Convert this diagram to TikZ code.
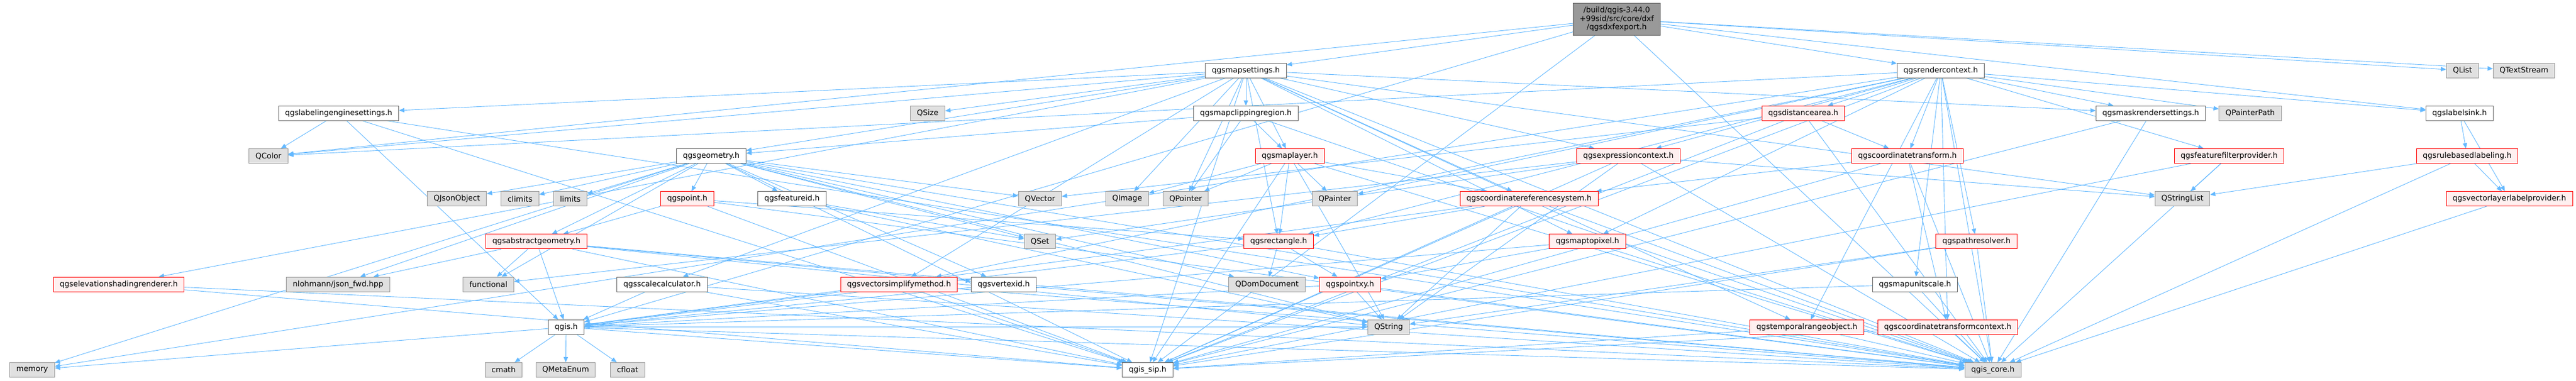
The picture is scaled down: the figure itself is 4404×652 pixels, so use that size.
\documentclass[tikz,border=0pt]{standalone}
\usepackage{fontspec}
\setmainfont{DejaVu Sans}
\usetikzlibrary{arrows.meta,backgrounds}
\definecolor{edgeblue}{HTML}{63B8FF}
\definecolor{extfill}{HTML}{E0E0E0}
\definecolor{extline}{HTML}{999999}
\definecolor{docline}{HTML}{666666}
\definecolor{redfill}{HTML}{FFF0F0}

\begin{document}
\begin{tikzpicture}[x=1pt,y=-1pt,font=\fontsize{13}{14.6}\selectfont,
	base/.style={rectangle,line width=1pt,inner xsep=11pt,inner ysep=0pt,minimum height=25pt},
	ext/.style={base,draw=extline,fill=extfill},
	doc/.style={base,draw=docline,fill=white},
	trunc/.style={base,draw=red,fill=redfill},
	root/.style={base,draw=docline,fill=extline,align=center,minimum width=148pt,minimum height=55pt},
	dep/.style={draw=edgeblue,line width=0.9pt,-{Triangle[length=9pt,width=7.5pt]}}]
	\useasboundingbox (0,0) rectangle (4404,652);
	% rank 0
	\node[root] (dxf) at (2764,32.7) {/build/qgis-3.44.0\\+99sid/src/core/dxf\\/qgsdxfexport.h};
	% rank 1
	\node[doc] (ms) at (2130,120.6) {qgsmapsettings.h};
	\node[doc] (rc) at (3318,120.6) {qgsrendercontext.h};
	\node[ext] (qlist) at (4210,120.6) {QList};
	\node[ext] (qts) at (4315,120.6) {QTextStream};
	% rank 2
	\node[doc] (les) at (579,193.8) {qgslabelingenginesettings.h};
	\node[ext] (qsize) at (1586,193.8) {QSize};
	\node[doc] (mcr) at (2130,193.8) {qgsmapclippingregion.h};
	\node[trunc] (da) at (3083,193.8) {qgsdistancearea.h};
	\node[doc] (mrs) at (3677,193.8) {qgsmaskrendersettings.h};
	\node[ext] (qpp) at (3847,193.8) {QPainterPath};
	\node[doc] (ls) at (4205,193.8) {qgslabelsink.h};
	% rank 3
	\node[ext] (qcol) at (459,267) {QColor};
	\node[doc] (geom) at (1216,267) {qgsgeometry.h};
	\node[trunc] (ml) at (2205,267) {qgsmaplayer.h};
	\node[trunc] (ec) at (2784,267) {qgsexpressioncontext.h};
	\node[trunc] (ct) at (3261,267) {qgscoordinatetransform.h};
	\node[trunc] (ffp) at (3811,267) {qgsfeaturefilterprovider.h};
	\node[trunc] (rbl) at (4218,267) {qgsrulebasedlabeling.h};
	% rank 4
	\node[ext] (qjson) at (781,340.2) {QJsonObject};
	\node[ext] (clim) at (889,340.2) {climits};
	\node[ext] (lim) at (975,340.2) {limits};
	\node[trunc] (pt) at (1175,340.2) {qgspoint.h};
	\node[doc] (fid) at (1354,340.2) {qgsfeatureid.h};
	\node[ext] (qvec) at (1778,340.2) {QVector};
	\node[ext] (qimg) at (1927,340.2) {QImage};
	\node[ext] (qptr) at (2027,340.2) {QPointer};
	\node[ext] (qpnt) at (2282,340.2) {QPainter};
	\node[trunc] (crs) at (2614,340.2) {qgscoordinatereferencesystem.h};
	\node[ext] (qsl) at (3731,340.2) {QStringList};
	\node[trunc] (vllp) at (4290,340.2) {qgsvectorlayerlabelprovider.h};
	% rank 5
	\node[trunc] (ag) at (917,413.4) {qgsabstractgeometry.h};
	\node[ext] (qset) at (1778,413.4) {QSet};
	\node[trunc] (rect) at (2186,413.4) {qgsrectangle.h};
	\node[trunc] (m2p) at (2714,413.4) {qgsmaptopixel.h};
	\node[trunc] (pr) at (3379,413.4) {qgspathresolver.h};
	% rank 6
	\node[trunc] (esr) at (203,486.6) {qgselevationshadingrenderer.h};
	\node[ext] (json) at (578,486.6) {nlohmann/json\_fwd.hpp};
	\node[ext] (func) at (835,486.6) {functional};
	\node[doc] (sc) at (1132,486.6) {qgsscalecalculator.h};
	\node[trunc] (vsm) at (1537,486.6) {qgsvectorsimplifymethod.h};
	\node[doc] (vid) at (1716,486.6) {qgsvertexid.h};
	\node[ext] (qdom) at (2166,486.6) {QDomDocument};
	\node[trunc] (pxy) at (2308,486.6) {qgspointxy.h};
	\node[doc] (mus) at (3274,486.6) {qgsmapunitscale.h};
	% rank 7
	\node[doc] (qgis) at (968,559.8) {qgis.h};
	\node[ext] (qstr) at (2374,559.8) {QString};
	\node[trunc] (tro) at (3089,559.8) {qgstemporalrangeobject.h};
	\node[trunc] (ctc) at (3330,559.8) {qgscoordinatetransformcontext.h};
	% rank 8
	\node[ext] (mem) at (55,633) {memory};
	\node[ext] (cmath) at (861,633) {cmath};
	\node[ext] (qme) at (967,633) {QMetaEnum};
	\node[ext] (cfl) at (1073,633) {cfloat};
	\node[doc] (sip) at (1962,633) {qgis\_sip.h};
	\node[ext] (core) at (3407,633) {qgis\_core.h};

	\begin{scope}[on background layer]
	\path (dxf) edge[dep] (ms) edge[dep] (rc) edge[dep] (ls) edge[dep] (qlist) edge[dep] (qts)
		edge[dep] (qcol) edge[dep] (core) edge[dep] (sip) edge[dep] (qgis);
	\path (ms) edge[dep] (les) edge[dep] (esr) edge[dep] (qsize) edge[dep] (mcr) edge[dep] (ml)
		edge[dep] (qimg) edge[dep] (qptr) edge[dep] (qcol) edge[dep] (geom) edge[dep] (crs)
		edge[dep] (rect) edge[dep] (m2p) edge[dep] (ec) edge[dep] (tro) edge[dep] (vsm)
		edge[dep] (sc) edge[dep] (mrs) edge[dep] (sip) edge[dep] (core) edge[dep] (qsl);
	\path (rc) edge[dep] (core) edge[dep] (sip) edge[dep] (qcol) edge[dep] (qpnt) edge[dep] (qpp)
		edge[dep] (mem) edge[dep] (ct) edge[dep] (ec) edge[dep] (ffp) edge[dep] (m2p)
		edge[dep] (mus) edge[dep] (rect) edge[dep] (vsm) edge[dep] (da) edge[dep] (ctc)
		edge[dep] (pr) edge[dep] (tro) edge[dep] (mrs) edge[dep] (ls);
	\path (geom) edge[dep] (func) edge[dep] (qdom) edge[dep] (qjson) edge[dep] (qset) edge[dep] (qstr)
		edge[dep] (qvec) edge[dep] (clim) edge[dep] (lim) edge[dep] (mem) edge[dep] (core)
		edge[dep] (sip) edge[dep] (ag) edge[dep] (pxy) edge[dep] (pt) edge[dep] (fid)
		edge[dep] (vid) edge[dep] (json);
	\path (pt) edge[dep] (ag) edge[dep] (rect) edge[dep] (core) edge[dep] (sip);
	\path (fid) edge[dep] (qset) edge[dep] (qstr);
	\path (ag) edge[dep] (func) edge[dep] (qstr) edge[dep] (core) edge[dep] (qgis) edge[dep] (sip)
		edge[dep] (vid) edge[dep] (json);
	\path (qgis) edge[dep] (qme) edge[dep] (cfl) edge[dep] (mem) edge[dep] (cmath) edge[dep] (core)
		edge[dep] (sip) edge[dep] (qstr);
	\path (vid) edge[dep] (core) edge[dep] (qgis);
	\path (vsm) edge[dep] (core) edge[dep] (sip) edge[dep] (qgis);
	\path (sc) edge[dep] (qgis) edge[dep] (core) edge[dep] (sip);
	\path (rect) edge[dep] (qdom) edge[dep] (pxy) edge[dep] (core) edge[dep] (qgis);
	\path (pxy) edge[dep] (qstr) edge[dep] (core) edge[dep] (qgis);
	\path (m2p) edge[dep] (pxy) edge[dep] (qgis) edge[dep] (core);
	\path (crs) edge[dep] (rect) edge[dep] (qstr) edge[dep] (core) edge[dep] (sip) edge[dep] (qgis);
	\path (ml) edge[dep] (qpnt) edge[dep] (rect) edge[dep] (crs) edge[dep] (sip) edge[dep] (core)
		edge[dep] (qstr) edge[dep] (qimg) edge[dep] (qptr);
	\path (ec) edge[dep] (qsl) edge[dep] (qset) edge[dep] (qstr) edge[dep] (core) edge[dep] (sip)
		edge[dep] (func);
	\path (ct) edge[dep] (crs) edge[dep] (ctc) edge[dep] (core) edge[dep] (sip);
	\path (da) edge[dep] (ct) edge[dep] (qvec) edge[dep] (core) edge[dep] (sip);
	\path (pr) edge[dep] (qstr) edge[dep] (sip) edge[dep] (core);
	\path (mus) edge[dep] (qgis) edge[dep] (core);
	\path (tro) edge[dep] (core) edge[dep] (sip);
	\path (ctc) edge[dep] (core) edge[dep] (sip);
	\path (ffp) edge[dep] (qsl) edge[dep] (core) edge[dep] (sip);
	\path (ls) edge[dep] (rbl) edge[dep] (vllp);
	\path (rbl) edge[dep] (qsl) edge[dep] (vllp) edge[dep] (core);
	\path (vllp) edge[dep] (core);
	\path (mrs) edge[dep] (core) edge[dep] (sip);
	\path (les) edge[dep] (qcol) edge[dep] (qgis) edge[dep] (sip) edge[dep] (core);
	\path (mcr) edge[dep] (geom) edge[dep] (qptr) edge[dep] (ml) edge[dep] (core);
	\path (esr) edge[dep] (core) edge[dep] (sip);
	\end{scope}
\end{tikzpicture}
\end{document}
